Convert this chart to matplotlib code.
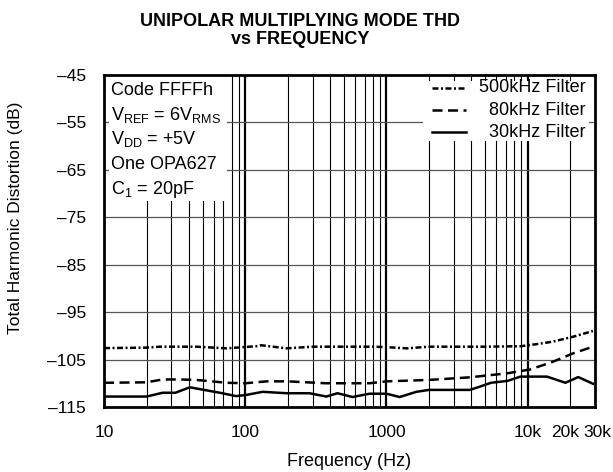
import numpy as np
import matplotlib
matplotlib.use("Agg")
import matplotlib.pyplot as plt
from matplotlib.patches import Rectangle
from matplotlib.transforms import ScaledTranslation

plt.rcParams['font.family'] = ['Liberation Sans', 'DejaVu Sans']
plt.rcParams['mathtext.fontset'] = 'custom'
plt.rcParams['mathtext.rm'] = 'Liberation Sans'
plt.rcParams['mathtext.it'] = 'Liberation Sans'

# data (Hz, dB)
f_500k = [10, 20, 25, 45, 74, 120, 130, 196, 300, 800, 1000, 1400, 2000, 5000, 9000, 12000, 15000, 21000, 29000]
thd_500k = [-102.6, -102.5, -102.3, -102.3, -102.65, -102.2, -102.0, -102.65, -102.3, -102.3, -102.4, -102.65, -102.3,
            -102.3, -102.2, -101.7, -101.25, -100.2, -99.0]

f_80k = [10, 20, 26, 34, 45, 74, 100, 142, 200, 370, 760, 1000, 2000, 3900, 7200, 10400, 15000, 21000, 29000]
thd_80k = [-109.9, -109.8, -109.2, -109.2, -109.3, -109.9, -110.0, -109.6, -109.6, -110.0, -110.0, -109.6, -109.3,
           -108.75, -107.9, -107.1, -105.5, -103.7, -102.3]

f_30k = [10, 20, 26, 32, 40.5, 66, 86, 100, 133, 196, 285, 375, 450, 575, 760, 1000, 1240, 1630, 2000, 3900,
         4600, 5500, 7200, 8900, 13700, 18500, 22800, 29000]
thd_30k = [-112.8, -112.8, -112.0, -112.0, -110.85, -112.0, -112.7, -112.5, -111.8, -112.1, -112.1, -112.8, -112.1,
           -112.9, -112.2, -112.2, -112.9, -111.8, -111.4, -111.4, -110.7, -109.9, -109.5, -108.6, -108.6, -109.9,
           -108.7, -110.1]

xticks = [10, 100, 1000, 10000, 20000, 30000]
xticklabels = ['10', '100', '1000', '10k', '20k', '30k']
yticks = [-45, -55, -65, -75, -85, -95, -105, -115]

fig = plt.figure(figsize=(6.13, 4.72), dpi=100)
ax = fig.add_axes([0.1697, 0.1377, 0.801, 0.7044])
ax.set_xscale('log')
ax.set_xlim(10, 30000)
ax.set_ylim(-115, -45)

# grid
for dec in [10, 100, 1000, 10000]:
    for m in range(2, 10):
        v = dec * m
        if v < 30000:
            ax.axvline(v, color='black', lw=0.8, zorder=0.5)
for dec in [100, 1000, 10000]:
    ax.axvline(dec, color='black', lw=1.6, zorder=0.5)
for yv in yticks[1:-1]:
    ax.axhline(yv, color='#555555', lw=0.9, zorder=0.5)

# white boxes that hide the grid behind the notes and the legend
ax.add_patch(Rectangle((0.011, 0.62), 0.24, 0.38, transform=ax.transAxes,
                       facecolor='white', edgecolor='none', zorder=1))
ax.add_patch(Rectangle((0.65, 0.80), 0.337, 0.18, transform=ax.transAxes,
                       facecolor='white', edgecolor='none', zorder=1))

ax.plot(f_500k, thd_500k, color='black', lw=1.8, dashes=(2.4, 1.0, 0.8, 1.0), zorder=2)
ax.plot(f_80k, thd_80k, color='black', lw=1.8, dashes=(4, 2.2), zorder=2)
ax.plot(f_30k, thd_30k, color='black', lw=1.8, zorder=2)

# notes
notes = ['Code FFFFh',
         r'V$_{\mathrm{REF}}$ = 6V$_{\mathrm{RMS}}$',
         r'V$_{\mathrm{DD}}$ = +5V',
         'One OPA627',
         r'C$_{\mathrm{1}}$ = 20pF']
note_y = [0.952, 0.879, 0.805, 0.729, 0.655]
for t, yy in zip(notes, note_y):
    ax.text(0.014, yy, t, transform=ax.transAxes, fontsize=13, va='center', ha='left', zorder=3)

# legend
leg_labels = ['500kHz Filter', '80kHz Filter', '30kHz Filter']
leg_dashes = [(2.4, 1.0, 0.8, 1.0), (4, 2.2), None]
leg_y = [0.96, 0.893, 0.827]
for lab, d, yy in zip(leg_labels, leg_dashes, leg_y):
    kw = {'dashes': d} if d else {}
    ax.plot([0.668, 0.738], [yy, yy], transform=ax.transAxes, color='black', lw=1.8, zorder=3, **kw)
    ax.text(0.98, yy, lab, transform=ax.transAxes, fontsize=13, va='center', ha='right', zorder=3)

ax.set_xticks(xticks)
ax.set_xticklabels(xticklabels)
ax.xaxis.set_minor_locator(matplotlib.ticker.NullLocator())
ax.set_yticks(yticks)
ax.set_yticklabels([str(v).replace('-', '\u2013') for v in yticks])
ax.tick_params(axis='both', length=0, labelsize=12.5)
ax.tick_params(axis='y', pad=13)
ax.tick_params(axis='x', pad=13)
labs = ax.get_xticklabels()
labs[4].set_transform(labs[4].get_transform() + ScaledTranslation(-5 / 100, 0, fig.dpi_scale_trans))
labs[5].set_transform(labs[5].get_transform() + ScaledTranslation(2 / 100, 0, fig.dpi_scale_trans))
for s in ax.spines.values():
    s.set_linewidth(2.0)
    s.set_zorder(4)

ax.set_xlabel('Frequency (Hz)', fontsize=13, labelpad=9)
ax.set_ylabel('Total Harmonic Distortion (dB)', fontsize=12.5)
ax.yaxis.set_label_coords(-0.165, 0.568)

fig.text(0.49, 0.935, 'UNIPOLAR MULTIPLYING MODE THD\nvs FREQUENCY', ha='center', va='center',
         fontsize=13, fontweight='bold', linespacing=1.1)

fig.savefig('out.png', dpi=100)
